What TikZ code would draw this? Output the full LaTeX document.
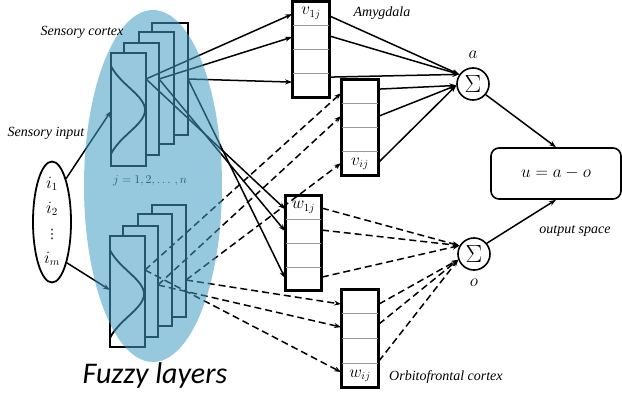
\documentclass[tikz,border=0pt]{standalone}
\usepackage{fontspec}
\setmainfont{Liberation Serif}
\newfontfamily\fuzzyfont{Carlito}
\newfontfamily\dotsfont{DejaVu Sans}
\usetikzlibrary{arrows.meta,shapes.geometric,calc}
\definecolor{ellblue}{RGB}{66,156,194}
\begin{document}
\begin{tikzpicture}[x=1pt,y=-1pt,
  stackrect/.style={draw=black,line width=2pt,fill=white},
  curve/.style={draw=black,line width=1.8pt},
  conn/.style={line width=1.5pt,-{Stealth[length=7pt,width=5pt]}},
  dconn/.style={conn,dash pattern=on 7pt off 4pt},
  cellbox/.style={draw,line width=1.8pt,fill=white,minimum width=36pt,minimum height=95pt,inner sep=0pt},
  divider/.style={draw=black!40,line width=0.7pt},
  lbl/.style={font=\itshape\fontsize{14}{16}\selectfont,inner sep=1pt},
  mlbl/.style={font=\fontsize{16}{18}\selectfont,inner sep=0pt},
  sumnode/.style={circle,draw,line width=1.6pt,minimum size=32pt,inner sep=0pt,fill=white,font=\fontsize{23}{23}\selectfont}
]
\useasboundingbox (0,0) rectangle (622,398);

% ---------- upper stack ----------
\draw[stackrect] (152,23) rectangle (188,135);
\draw[stackrect] (139,32) rectangle (174,144);
\draw[stackrect] (124,43) rectangle (159,155);
\draw[stackrect] (111,53) rectangle (146,166);
\draw[curve] plot[domain=-44:44,samples=50,smooth] ({111+34*(exp(-(\x*\x)/1000)-0.144)/0.856},{110+\x});
% ---------- lower stack ----------
\draw[stackrect] (152,205) rectangle (186,317);
\draw[stackrect] (138,214) rectangle (172,326);
\draw[stackrect] (123,226) rectangle (158,337);
\draw[stackrect] (110,236) rectangle (145,347);
\draw[curve] plot[domain=-44:44,samples=50,smooth] ({110+34*(exp(-(\x*\x)/1000)-0.144)/0.856},{294+\x});

\node[font=\fontsize{12}{14}\selectfont] (jlab) at (150,181) {$j=1,2,\ldots\,,n$};

% origins on the stacks
\coordinate (u1) at (146,79);
\coordinate (u2) at (159,79);
\coordinate (u3) at (188,79);
\coordinate (l1) at (145,270);
\coordinate (l2) at (158,285);
\coordinate (l3) at (186,280);

% ---------- boxes ----------
\node[cellbox] (v1) at (311,49.5) {};
\node[cellbox] (vi) at (360,127.5) {};
\node[cellbox,minimum width=35pt,minimum height=94pt] (w1) at (303.5,243) {};
\node[cellbox,minimum height=97pt] (wi) at (360,338.5) {};

% input ellipse
\node[ellipse,draw,line width=1.8pt,minimum width=38pt,minimum height=121pt,inner sep=0pt] (inp) at (52,222) {};

% ---------- connectors from the stacks ----------
\draw[conn] (u1) -- ($(v1.north west)+(0,13)$);
\draw[conn] (u2) -- ($(v1.north west)+(0,36)$);
\draw[conn] (u3) -- ($(v1.north west)+(0,81)$);
\draw[conn] (u1) -- ($(w1.north west)+(0,14)$);
\draw[conn] (u2) -- ($(w1.north west)+(0,36)$);
\draw[conn] (u3) -- ($(w1.north west)+(0,83)$);
\draw[dconn] (l1) -- ($(vi.north west)+(0,14)$);
\draw[dconn] (l2) -- ($(vi.north west)+(0,37)$);
\draw[dconn] (l3) -- ($(vi.north west)+(0,84)$);
\draw[dconn] (l3) -- ($(wi.north west)+(0,15)$);
\draw[dconn] (l2) -- ($(wi.north west)+(0,38)$);
\draw[dconn] (l1) -- ($(wi.north west)+(0,83)$);

% input arrows
\coordinate (fin1) at (111,111);
\coordinate (fin2) at (110,290);
\draw[conn] (inp.72) -- (fin1);
\draw[conn] (inp.-70) -- (fin2);

% ---------- translucent fuzzy ellipse ----------
\fill[ellblue,opacity=0.55] (153,186) ellipse [x radius=69,y radius=176];

% box dividers and borders
\foreach \b in {v1,vi,w1,wi}{
  \foreach \f in {0.25,0.5,0.75}{
    \draw[divider] ($(\b.north west)!\f!(\b.south west)$) -- ($(\b.north east)!\f!(\b.south east)$);
  }
  \draw[line width=1.8pt] (\b.north west) rectangle (\b.south east);
}

\node[mlbl] (v1lab) at ($(v1.north)+(0,12)$) {$v_{1j}$};
\node[mlbl] (vilab) at ($(vi.south)+(0,-12)$) {$v_{ij}$};
\node[mlbl] (w1lab) at ($(w1.north)+(0,12)$) {$w_{1j}$};
\node[mlbl] (wilab) at ($(wi.south)+(0,-12)$) {$w_{ij}$};

\node[mlbl] (i1) at (52,184) {$i_1$};
\node[mlbl] (i2) at (52,209) {$i_2$};
\node[font=\dotsfont\fontsize{13}{13}\selectfont,inner sep=0pt] (id) at (52,234) {⋮};
\node[mlbl] (im) at (52,259) {$i_m$};

% ---------- sums and output ----------
\node[sumnode] (suma) at (473,84) {$\Sigma$};
\node[sumnode] (sumo) at (474,254) {$\Sigma$};
\node[draw,rounded corners=8pt,line width=1.6pt,minimum width=130pt,minimum height=51pt,font=\fontsize{17}{19}\selectfont] (out) at (556,173.5) {$u=a-o$};

\draw[conn] ($(v1.north east)+(0,15)$) -- (suma.145);
\draw[conn] ($(v1.north east)+(0,35)$) -- (suma.145);
\draw[conn] ($(v1.north east)+(0,76)$) -- (suma.145);
\draw[conn] ($(vi.north east)+(0,10)$) -- (suma.185);
\draw[conn] ($(vi.north east)+(0,37)$) -- (suma.185);
\draw[conn] ($(vi.north east)+(0,83)$) -- (suma.185);
\draw[dconn] ($(w1.north east)+(0,13)$) -- (sumo.150);
\draw[dconn] ($(w1.north east)+(0,35)$) -- (sumo.150);
\draw[dconn] ($(w1.north east)+(0,82)$) -- (sumo.150);
\draw[dconn] ($(wi.north east)+(0,15)$) -- (sumo.200);
\draw[dconn] ($(wi.north east)+(0,35)$) -- (sumo.200);
\draw[dconn] ($(wi.north east)+(0,72)$) -- (sumo.200);

\draw[conn] (suma.-40) -- (out.north);
\draw[conn] (sumo.40) -- (out.south);

% ---------- labels ----------
\node[lbl,font=\fontsize{16}{18}\selectfont] (alab) at (473,55) {$a$};
\node[lbl,font=\fontsize{16}{18}\selectfont] (olab) at (474,283) {$o$};
\node[lbl] (amyg) at (382,13) {Amygdala};
\node[lbl,anchor=west] (orb) at (388,377) {Orbitofrontal cortex};
\node[lbl] (outsp) at (575,231) {output space};
\node[lbl] (scx) at (82,32) {Sensory cortex};
\node[lbl] (sin) at (46,133) {Sensory input};
\node[font=\fuzzyfont\itshape\fontsize{30}{32}\selectfont] (fuzzy) at (155,376) {Fuzzy layers};
\end{tikzpicture}
\end{document}
